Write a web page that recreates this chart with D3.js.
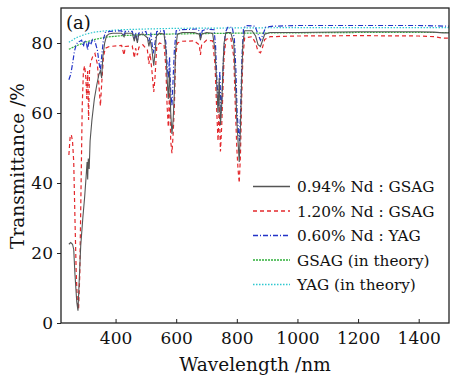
<!DOCTYPE html>
<html>
<head>
<meta charset="utf-8">
<script src="https://cdn.jsdelivr.net/npm/d3@7"></script>
<style>
  body { margin: 0; background: #fff; }
</style>
</head>
<body>
<div id="chart"></div>
<script>
// measured spectra, [wavelength nm, transmittance %]
var gsag094 = [
  [246,22.5],[252,23],[258,22.5],[262,21],[266,14],[272,6],[276,3.5],[280,12],[285,22],
  [292,30],[298,36],[303,42],[306,46],[308,41],[310,47],[313,44],[316,52],[322,58],
  [330,64],[338,68],[345,71],[350,72],[354,70],[358,76],[364,80],[370,82],[378,82.6],
  [390,82.8],[420,82.8],[428,81.8],[432,82.8],[455,82.8],[462,80.5],[466,82.5],[472,80],
  [476,82.3],[490,82.6],[505,81.5],[510,79],[514,81],[520,78],[526,73.5],[530,77],
  [535,82],[545,82.8],[560,82.5],[566,78],[570,70],[574,64],[578,72],[582,60],[586,54],
  [590,58],[594,66],[598,78],[604,82.5],[620,83],[660,83],[676,82.5],[680,80.8],[684,82.5],
  [700,83],[720,82.8],[728,78],[734,68],[738,60],[742,70],[746,56.6],[750,62],[754,72],
  [758,80],[764,83],[780,83],[790,80],[795,70],[800,58],[804,52],[808,46],[812,56],
  [816,70],[820,80],[826,83.5],[850,83.5],[862,82],[870,79.5],[878,79],[884,80.5],
  [892,82.5],[910,83],[1000,83],[1200,83.2],[1400,83.2],[1450,83.1],[1480,82.9],[1500,82.9]
];
var gsag120 = [
  [246,48],[250,53],[254,53.8],[258,52],[262,46],[266,30],[270,15],[274,6],[278,4],
  [282,14],[286,38],[290,62],[294,72],[298,73.5],[302,70],[305,64],[308,72],[311,58],
  [314,72],[318,74.5],[324,76],[332,77],[340,74],[346,67],[350,62],[354,68],[360,76],
  [366,78.5],[380,79],[420,79.3],[428,76.5],[432,79],[455,79.2],[462,75.7],[466,78.5],
  [472,76.5],[477,78.8],[490,79.5],[505,78],[510,74],[514,77],[520,72],[526,66],[530,70],
  [536,79],[545,80],[560,79.5],[566,73],[570,62],[574,56],[578,66],[582,52],[586,48.5],
  [590,54],[594,62],[598,76],[604,80],[620,80.5],[660,80.6],[676,79.5],[680,76.6],
  [684,79.5],[700,80.8],[720,80.6],[728,74],[734,60],[738,52],[742,62],[746,49],[750,56],
  [754,66],[758,76],[764,81],[780,81.5],[790,76],[795,62],[800,50],[804,44],[808,40],
  [812,48],[816,64],[820,76],[826,81.5],[850,81.8],[862,80],[870,77.6],[878,77.2],
  [884,78.5],[892,81],[910,81.8],[1000,82],[1200,82.1],[1400,82],[1450,81.8],[1480,81.4],[1500,81.4]
];
var yag060 = [
  [246,69.5],[252,71],[258,74],[264,77.5],[270,79.5],[276,80.3],[282,80.5],[288,80.8],
  [294,79],[298,80.8],[304,80],[308,78],[312,80.5],[318,79.5],[324,81],[332,80.5],
  [340,78],[346,74],[350,72],[354,76],[360,81],[366,83],[380,83.3],[420,83.5],[428,82],
  [432,83.3],[455,83.3],[462,81],[466,83],[472,80.5],[476,82.8],[500,83.3],[510,80.5],
  [516,83],[524,77],[530,80],[536,83.3],[560,83.5],[566,80],[570,74],[574,70],[578,76],
  [582,66],[586,62],[590,70],[594,78],[600,83.5],[620,83.8],[670,84],[678,83.2],
  [682,81.5],[686,83.5],[700,84],[725,83.8],[730,79],[735,68],[740,62],[744,72],[748,60],
  [752,66],[756,76],[762,83],[770,84.5],[785,84.5],[792,81],[797,72],[801,60],[805,55],
  [809,52],[813,62],[817,76],[822,84],[830,85],[860,84.8],[870,82.5],[878,80.8],
  [886,82.3],[895,84.5],[920,84.8],[1000,85],[1200,85],[1400,85],[1500,84.8]
];
var gsagTheory = [
  [246,78.2],[270,79.2],[300,80.2],[330,81],[370,81.7],[420,82.1],[500,82.4],
  [600,82.6],[800,82.8],[1000,82.9],[1200,83],[1500,83]
];
var yagTheory = [
  [246,80.2],[270,81.5],[300,82.5],[330,83.1],[370,83.5],[420,83.8],[500,84],
  [600,84.2],[800,84.3],[1000,84.4],[1500,84.4]
];

var legendLabels = ['0.94% Nd : GSAG', '1.20% Nd : GSAG', '0.60% Nd : YAG', 'GSAG (in theory)', 'YAG (in theory)'];
var xTicks = [400, 600, 800, 1000, 1200, 1400];
var yTicks = [0, 20, 40, 60, 80];

var FONT = '"DejaVu Serif", "Liberation Serif", serif';

var series = [
  {data: gsag094,    color: '#555555', dash: null},
  {data: gsag120,    color: '#e3282c', dash: '4,3'},
  {data: yag060,     color: '#2233c8', dash: '5,2,1,2'},
  {data: gsagTheory, color: '#2fb03a', dash: '2,1'},
  {data: yagTheory,  color: '#2ec8d0', dash: '1.5,1.5'}
];

var W = 450, H = 377;
var m = {left: 61, right: 1, top: 8, bottom: 54};

var svg = d3.select('#chart').append('svg')
  .attr('width', W).attr('height', H)
  .style('font-family', FONT);

var x = d3.scaleLinear().domain([220, 1500]).range([m.left, W - m.right]);
var y = d3.scaleLinear().domain([0, 90]).range([H - m.bottom, m.top]);

// curves, drawn back to front
var line = d3.line().x(function(d) { return x(d[0]); }).y(function(d) { return y(d[1]); });
var order = [4, 3, 2, 1, 0];
order.forEach(function(i) {
  var s = series[i];
  svg.append('path')
    .datum(s.data)
    .attr('fill', 'none')
    .attr('stroke', s.color)
    .attr('stroke-width', i === 0 ? 1.1 : 1.2)
    .attr('stroke-dasharray', s.dash)
    .attr('d', line);
});

// frame
svg.append('rect')
  .attr('x', m.left).attr('y', m.top)
  .attr('width', W - m.right - m.left).attr('height', H - m.bottom - m.top)
  .attr('fill', 'none').attr('stroke', '#222').attr('stroke-width', 1.3);

// x axis, ticks inside
var xAxis = svg.append('g')
  .attr('transform', 'translate(0,' + (H - m.bottom) + ')')
  .call(d3.axisBottom(x).tickValues(xTicks).tickFormat(d3.format('d'))
    .tickSizeInner(-4).tickSizeOuter(0).tickPadding(9));
xAxis.attr('font-family', FONT).attr('font-size', 17);
xAxis.select('.domain').remove();
xAxis.selectAll('line').attr('stroke', '#222');
xAxis.selectAll('text').attr('fill', '#111');

// y axis, ticks outside
var yAxis = svg.append('g')
  .attr('transform', 'translate(' + m.left + ',0)')
  .call(d3.axisLeft(y).tickValues(yTicks).tickSize(4).tickSizeOuter(0).tickPadding(4));
yAxis.attr('font-family', FONT).attr('font-size', 17);
yAxis.select('.domain').remove();
yAxis.selectAll('line').attr('stroke', '#222');
yAxis.selectAll('text').attr('fill', '#111');

// titles
svg.append('text')
  .attr('x', 255).attr('y', 371)
  .attr('text-anchor', 'middle').attr('font-size', 18.5)
  .attr('fill', '#111')
  .text('Wavelength /nm');

svg.append('text')
  .attr('transform', 'translate(24,166) rotate(-90)')
  .attr('text-anchor', 'middle').attr('font-size', 18.5)
  .attr('fill', '#111')
  .text('Transmittance /%');

svg.append('text')
  .attr('x', 66).attr('y', 29)
  .attr('font-size', 18)
  .attr('fill', '#111')
  .text('(a)');

// legend
var legend = svg.append('g').attr('transform', 'translate(253,186)');
legendLabels.forEach(function(lbl, i) {
  var row = legend.append('g').attr('transform', 'translate(0,' + (i * 24.5) + ')');
  row.append('line')
    .attr('x1', 0).attr('x2', 37).attr('y1', 0.5).attr('y2', 0.5)
    .attr('stroke', series[i].color).attr('stroke-width', 1.4)
    .attr('stroke-dasharray', series[i].dash);
  row.append('text')
    .attr('x', 44).attr('y', 6)
    .attr('font-size', 15.3)
    .attr('fill', '#111')
    .text(lbl);
});
</script>
</body>
</html>
